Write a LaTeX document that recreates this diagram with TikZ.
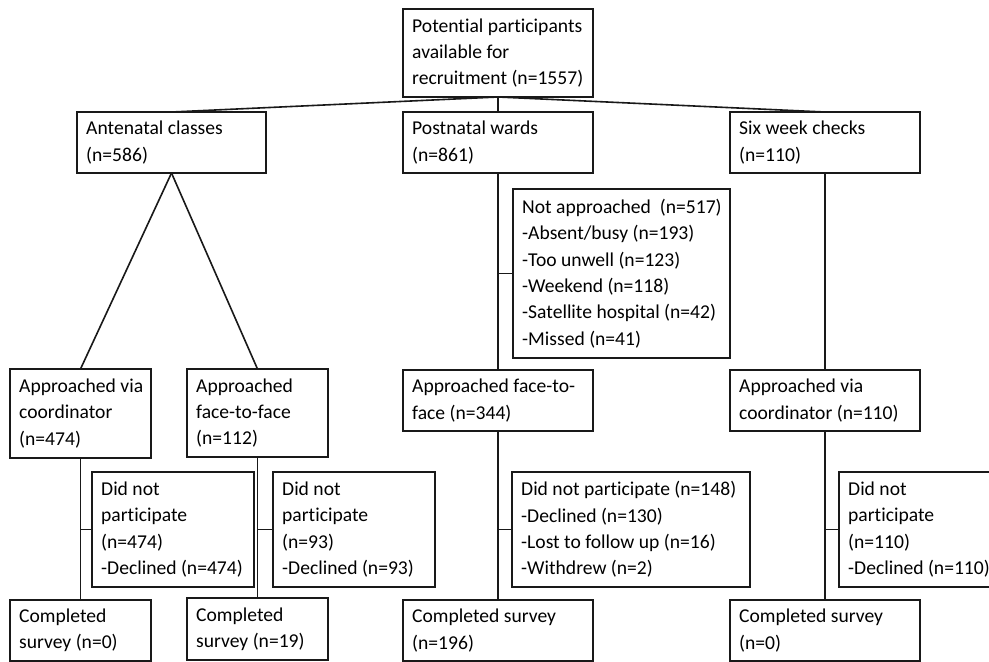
\documentclass[tikz,border=0pt]{standalone}
\usepackage{fontspec}
\setmainfont[Ligatures=NoCommon, RawFeature=-liga]{Carlito}
\begin{document}
\begin{tikzpicture}[x=1pt,y=-1pt,
  boxst/.style={draw=black!90, line width=1.6pt, inner sep=0pt, outer sep=0pt, fill=white},
  txtst/.style={inner sep=0pt, align=left, font=\fontsize{19.6}{26.3}\selectfont, text=black},
  conn/.style={draw=black!90, line width=1.6pt}]
\newcommand{\mybox}[6]{%
  \node[boxst, minimum width=#4pt, minimum height=#5pt, anchor=north west] (#1) at (#2,#3) {};
  \node[txtst, anchor=west] (#1-t) at ([xshift=9pt]#1.west) {#6};}
\useasboundingbox (0,0) rectangle (989,662);
\clip (0,0) rectangle (989,662);
\fill[white] (0,0) rectangle (989,662);
\mybox{top}{403}{9}{190}{88}{Potential participants\\available for\\recruitment (n=1557)}
\mybox{ante}{77}{112}{189}{61}{Antenatal classes\\(n=586)}
\mybox{post}{403}{112}{190}{61}{Postnatal wards\\(n=861)}
\mybox{six}{730}{112}{190}{61}{Six week checks\\(n=110)}
\mybox{notappr}{513}{189}{217}{169}{Not approached~~(n=517)\\-Absent/busy (n=193)\\-Too unwell (n=123)\\-Weekend (n=118)\\-Satellite hospital (n=42)\\-Missed (n=41)}
\mybox{avcA}{10}{369}{141}{89}{Approached via\\coordinator\\(n=474)}
\mybox{afA}{187}{369}{141}{88}{Approached\\face-to-face\\(n=112)}
\mybox{dnpA}{92}{472}{162}{115}{Did not\\participate\\(n=474)\\-Declined (n=474)}
\mybox{dnpB}{273}{472}{162}{115}{Did not\\participate\\(n=93)\\-Declined (n=93)}
\mybox{csA}{10}{600}{141}{61}{Completed\\survey (n=0)}
\mybox{csB}{187}{598}{141}{62}{Completed\\survey (n=19)}
\mybox{afC}{403}{370}{190}{61}{Approached face-to-\\face (n=344)}
\mybox{dnpC}{512}{472}{238}{115}{Did not participate (n=148)\\-Declined (n=130)\\-Lost to follow up (n=16)\\-Withdrew (n=2)}
\mybox{csC}{403}{600}{190}{61}{Completed survey\\(n=196)}
\mybox{avcD}{730}{370}{190}{61}{Approached via\\coordinator (n=110)}
\mybox{dnpD}{839}{472}{170}{115}{Did not\\participate\\(n=110)\\-Declined (n=110)}
\mybox{csD}{730}{600}{190}{61}{Completed survey\\(n=0)}
% connectors
\draw[conn] (top.south) -- (ante.north);
\draw[conn] (top.south) -- (post.north);
\draw[conn] (top.south) -- (six.north);
\draw[conn] (ante.south) -- (avcA.north);
\draw[conn] (ante.south) -- (afA.north);
\draw[conn] (avcA.south) -- (csA.north);
\draw[conn] (dnpA.west) -- (dnpA.west -| avcA.south);
\draw[conn] (afA.south) -- (csB.north);
\draw[conn] (dnpB.west) -- (dnpB.west -| afA.south);
\draw[conn] (post.south) -- (afC.north);
\draw[conn] (notappr.west) -- (notappr.west -| post.south);
\draw[conn] (afC.south) -- (csC.north);
\draw[conn] (dnpC.west) -- (dnpC.west -| afC.south);
\draw[conn] (six.south) -- (avcD.north);
\draw[conn] (avcD.south) -- (csD.north);
\draw[conn] (dnpD.west) -- (dnpD.west -| avcD.south);
\end{tikzpicture}
\end{document}
